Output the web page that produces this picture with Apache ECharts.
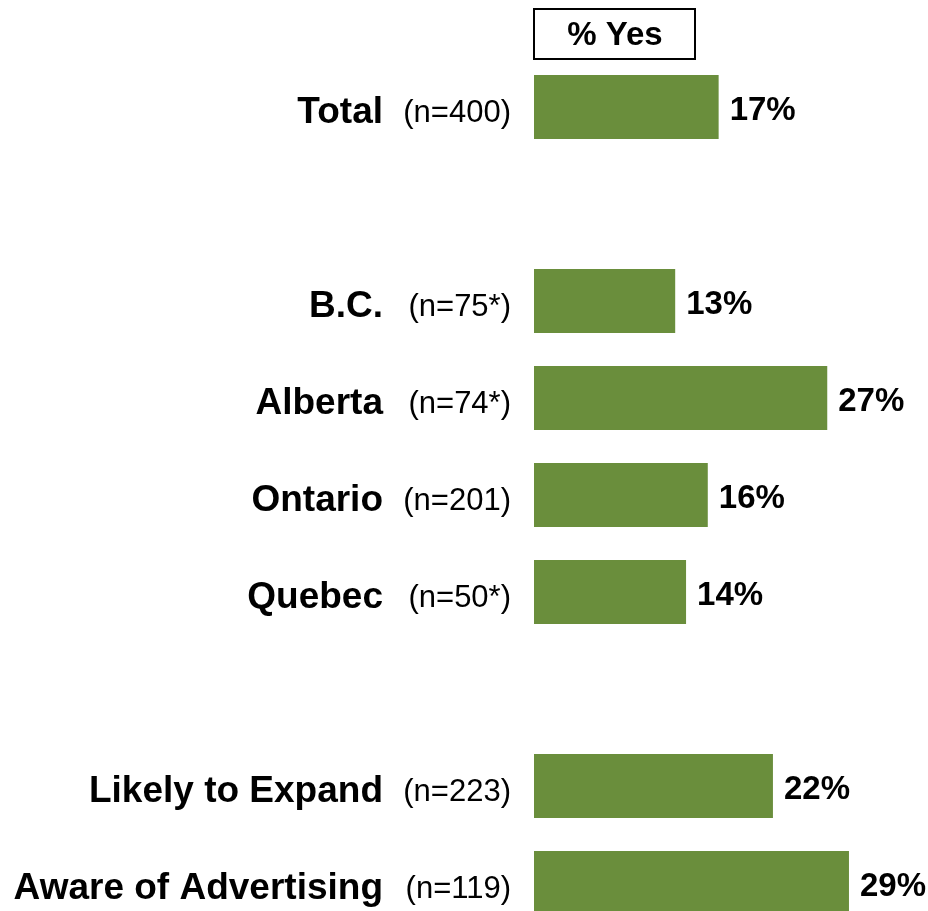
<!DOCTYPE html>
<html>
<head>
<meta charset="utf-8">
<script src="https://cdn.jsdelivr.net/npm/echarts@6/dist/echarts.min.js"></script>
<style>html,body{margin:0;padding:0;background:#fff;}#c{width:928px;height:911px;}</style>
</head>
<body>
<div id="c"></div>
<script>
const categories = ['Total', '', 'B.C.', 'Alberta', 'Ontario', 'Quebec', '', 'Likely to Expand', 'Aware of Advertising'];
const sampleSizes = ['(n=400)', '', '(n=75*)', '(n=74*)', '(n=201)', '(n=50*)', '', '(n=223)', '(n=119)'];
const yesValues = [17, '-', 13, 27, 16, 14, '-', 22, 29];
const headerText = '% Yes';

const FONT = '"Liberation Sans", Arial, sans-serif';
const chart = echarts.init(document.getElementById('c'), null, {renderer: 'canvas'});
const hidden = {axisLine: {show: false}, axisTick: {show: false}, splitLine: {show: false}};
chart.setOption({
  animation: false,
  backgroundColor: '#ffffff',
  grid: [
    {left: 534, right: 3, top: 107, bottom: 28, containLabel: false},
    {left: 534, right: 3, top: 113, bottom: 22, containLabel: false}
  ],
  xAxis: [
    {type: 'value', min: 0, max: 36, show: false, gridIndex: 0},
    {type: 'value', min: 0, max: 36, show: false, gridIndex: 1}
  ],
  yAxis: [
    Object.assign({
      type: 'category', gridIndex: 0, data: categories, inverse: true, boundaryGap: false,
      axisLabel: {show: false}
    }, hidden),
    Object.assign({
      type: 'category', gridIndex: 1, data: categories, inverse: true, boundaryGap: false,
      axisLabel: {margin: 151, color: '#000', fontFamily: FONT, fontWeight: 'bold', fontSize: 37, interval: 0}
    }, hidden),
    Object.assign({
      type: 'category', gridIndex: 1, data: sampleSizes, inverse: true, boundaryGap: false, position: 'left',
      axisLabel: {margin: 23, color: '#000', fontFamily: FONT, fontSize: 31, interval: 0}
    }, hidden)
  ],
  series: [{
    type: 'bar', xAxisIndex: 0, yAxisIndex: 0, data: yesValues, barWidth: 64,
    itemStyle: {color: '#6a8e3c'},
    label: {show: true, position: 'right', distance: 11, offset: [0, 4], formatter: '{c}%', color: '#000',
      fontFamily: FONT, fontWeight: 'bold', fontSize: 33}
  }],
  graphic: [{
    type: 'group', left: 533, top: 8,
    children: [
      {type: 'rect', shape: {x: 0, y: 0, width: 161, height: 50}, style: {fill: '#fff', stroke: '#000', lineWidth: 2}},
      {type: 'text', x: 81, y: 27, style: {text: headerText, fill: '#000', font: 'bold 33px ' + FONT, align: 'center', verticalAlign: 'middle'}}
    ]
  }]
});
</script>
</body>
</html>
